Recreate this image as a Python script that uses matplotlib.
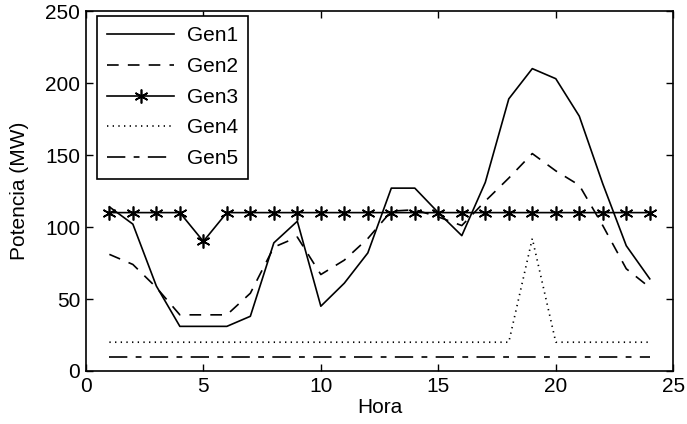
import numpy as np
import matplotlib
matplotlib.use('Agg')
from matplotlib import pyplot as plt

plt.rcParams['font.family'] = ['Liberation Sans', 'DejaVu Sans']

# Datos
hora = list(range(1, 25))
gen1 = [114, 102, 59, 31, 31, 31, 38, 89, 104, 45, 61, 82,
        127, 127, 110, 94, 131, 189, 210, 203, 177, 130, 87, 64]
gen2 = [81, 74, 58, 39, 39, 39, 54, 86, 93, 67, 77, 92,
        111, 112, 107, 101, 118, 134, 151, 139, 129, 101, 71, 58]
gen3 = [110, 110, 110, 110, 90, 110, 110, 110, 110, 110, 110, 110,
        110, 110, 110, 110, 110, 110, 110, 110, 110, 110, 110, 110]
gen4 = [20, 20, 20, 20, 20, 20, 20, 20, 20, 20, 20, 20,
        20, 20, 20, 20, 20, 20, 92, 20, 20, 20, 20, 20]
gen5 = [10] * 24

fs = 15
lw = 1.2

fig = plt.figure(figsize=(6.87, 4.24), dpi=100)
ax = fig.add_axes([0.125, 0.125, 0.855, 0.849])

ax.plot(hora, gen1, 'k-', lw=lw, label='Gen1')
ax.plot(hora, gen2, 'k--', lw=lw, dashes=(7, 5.5), label='Gen2')
ax.plot(hora, gen3, 'k-', lw=lw, marker=(6, 2, 0), markersize=10,
        markeredgewidth=1.2, label='Gen3')
ax.plot(hora, gen4, 'k:', lw=lw, dashes=(0.8, 2.6), label='Gen4')
ax.plot(hora, gen5, 'k-.', lw=lw, dashes=(11, 5, 3.5, 5), label='Gen5')

ax.set_xlim(0, 25)
ax.set_ylim(0, 250)
ax.set_xticks([0, 5, 10, 15, 20, 25])
ax.set_yticks([0, 50, 100, 150, 200, 250])
ax.tick_params(direction='in', top=True, right=True, length=5,
               labelsize=fs, width=1.0, pad=4)
for s in ax.spines.values():
    s.set_linewidth(1.2)

ax.set_xlabel('Hora', fontsize=fs, labelpad=2)
ax.set_ylabel('Potencia (MW)', fontsize=fs, labelpad=12)

leg = ax.legend(loc='upper left', bbox_to_anchor=(0.019, 0.986),
                borderaxespad=0, fontsize=fs, handlelength=3.2,
                handletextpad=0.6, labelspacing=0.56, fancybox=False,
                edgecolor='k', framealpha=1, borderpad=0.5)
leg.get_frame().set_linewidth(1.2)

fig.savefig('out.png', dpi=100)
